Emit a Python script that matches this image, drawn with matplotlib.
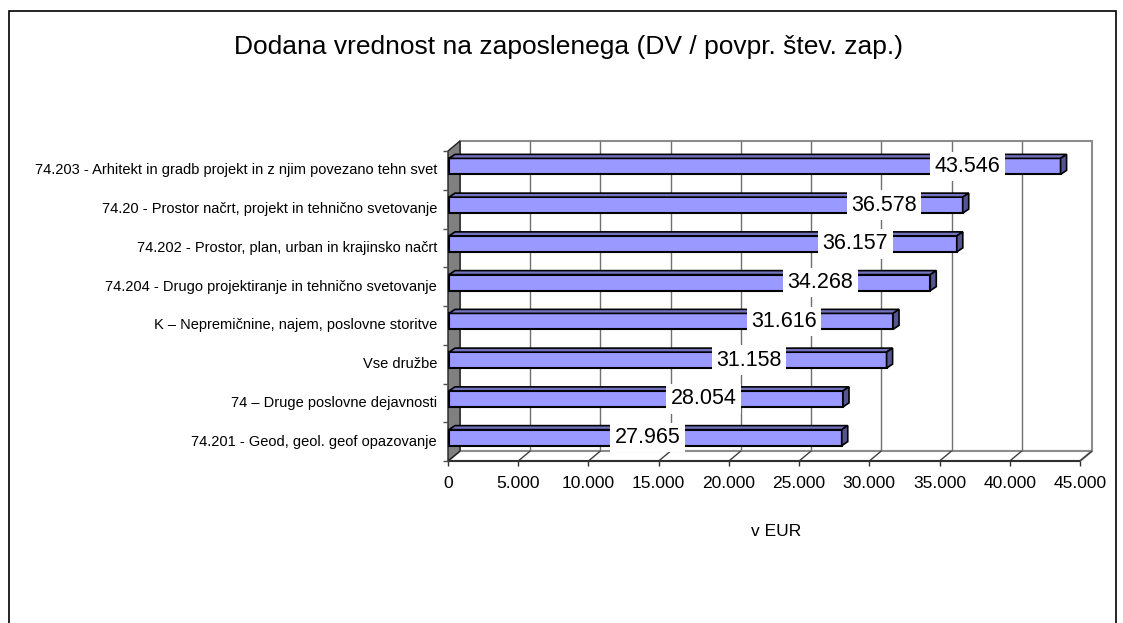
import matplotlib
matplotlib.use('Agg')
import matplotlib.pyplot as plt
from matplotlib import transforms
from matplotlib.patches import Polygon, Rectangle

plt.rcParams['font.family'] = ['Liberation Sans', 'DejaVu Sans']

categories = ['74.203 - Arhitekt in gradb projekt in z njim povezano tehn svet',
              '74.20 - Prostor načrt, projekt in tehnično svetovanje',
              '74.202 - Prostor, plan, urban in krajinsko načrt',
              '74.204 - Drugo projektiranje in tehnično svetovanje',
              'K – Nepremičnine, najem, poslovne storitve',
              'Vse družbe',
              '74 – Druge poslovne dejavnosti',
              '74.201 - Geod, geol. geof opazovanje']
values = [43546, 36578, 36157, 34268, 31616, 31158, 28054, 27965]
xticks = [0, 5000, 10000, 15000, 20000, 25000, 30000, 35000, 40000, 45000]

title = 'Dodana vrednost na zaposlenega (DV / povpr. štev. zap.)'
xlabel = 'v EUR'

# where excel put the value labels (x in data units), odd because of the 3d projection
label_x = [36990, 31045, 29016, 26524, 23925, 21397, 18193, 14205]

W, H = 1123, 623
DX, DY = 12, 10      # depth of the walls in px
BX, BY = 6, 4        # depth of the bars in px

fig = plt.figure(figsize=(W / 100, H / 100), dpi=100)
fig.patches.append(Rectangle((9 / W, -0.05), (1116 - 9) / W, (H - 11) / H + 0.05,
                             transform=fig.transFigure, fill=False,
                             edgecolor='black', linewidth=1.2))

ax = fig.add_axes([448 / W, 1 - 461 / H, 632 / W, 310 / H])
n = len(categories)
ax.set_xlim(0, 45000)
ax.set_ylim(n - 0.5, -0.5)
ax.axis('off')

ident = transforms.IdentityTransform()


def pt(x, y, dx=0, dy=0):
    X, Y = ax.transData.transform((x, y))
    return (X + dx, Y + dy)


def poly(pts, **kw):
    p = Polygon(pts, closed=True, transform=ident, clip_on=False, **kw)
    ax.add_artist(p)


def line(p1, p2, **kw):
    ax.plot([p1[0], p2[0]], [p1[1], p2[1]], transform=ident, clip_on=False,
            solid_capstyle='butt', **kw)


xmax = xticks[-1]
top, bot = -0.5, n - 0.5

# back wall
poly([pt(0, top, DX, DY), pt(xmax, top, DX, DY), pt(xmax, bot, DX, DY), pt(0, bot, DX, DY)],
     facecolor='white', edgecolor='#8c8c8c', linewidth=1.5, zorder=1)
for t in xticks[1:-1]:
    line(pt(t, top, DX, DY), pt(t, bot, DX, DY), color='#707070', linewidth=1.0, zorder=2)

# floor
poly([pt(0, bot), pt(xmax, bot), pt(xmax, bot, DX, DY), pt(0, bot, DX, DY)],
     facecolor='white', edgecolor='#8c8c8c', linewidth=1.5, zorder=1)
for t in xticks[1:]:
    line(pt(t, bot), pt(t, bot, DX, DY), color='#404040', linewidth=1.0, zorder=2)
line(pt(0, bot), pt(xmax, bot), color='#303030', linewidth=1.5, zorder=3)

# left wall
poly([pt(0, top), pt(0, top, DX, DY), pt(0, bot, DX, DY), pt(0, bot)],
     facecolor='#808080', edgecolor='#202020', linewidth=1.0, zorder=2)

# ticks
for t in xticks:
    line(pt(t, bot), pt(t, bot, 0, -5), color='#303030', linewidth=1.0, zorder=3)
    ax.text(t, bot, f'{t:,}'.replace(',', '.'), fontsize=12.5, ha='center', va='center',
            transform=transforms.offset_copy(ax.transData, fig=fig, x=0, y=-22, units='dots'))
for k in range(n + 1):
    line(pt(0, k - 0.5, -5, 0), pt(0, k - 0.5), color='#505050', linewidth=1.0, zorder=3)

# bars
bh = 16 / 38.75
bar_tr = transforms.offset_copy(ax.transData, fig=fig, x=1, y=4, units='dots')
ax.barh(range(n), values, height=bh, color='#9999ff', edgecolor='black',
        linewidth=1.5, transform=bar_tr, zorder=4, clip_on=False)
for k, v in enumerate(values):
    y0, y1 = k - bh / 2, k + bh / 2
    poly([pt(0, y0, 1, 4), pt(v, y0, 1, 4), pt(v, y0, 1 + BX, 4 + BY), pt(0, y0, 1 + BX, 4 + BY)],
         facecolor='#7373c0', edgecolor='black', linewidth=1.2, zorder=4)
    poly([pt(v, y0, 1, 4), pt(v, y1, 1, 4), pt(v, y1, 1 + BX, 4 + BY), pt(v, y0, 1 + BX, 4 + BY)],
         facecolor='#55558f', edgecolor='black', linewidth=1.2, zorder=4)
    ax.text(label_x[k], k, f'{v:,}'.replace(',', '.'), fontsize=15.5, ha='center', va='center',
            transform=transforms.offset_copy(ax.transData, fig=fig, x=0, y=4, units='dots'),
            bbox=dict(boxstyle='square,pad=0.2', facecolor='white', edgecolor='none'),
            zorder=6)

# category labels
lab_tr = transforms.offset_copy(ax.transData, fig=fig, x=-11, y=0, units='dots')
for k, c in enumerate(categories):
    ax.text(0, k, c, fontsize=10.5, ha='right', va='center', transform=lab_tr)

fig.text(568 / W, 1 - 47 / H, title, fontsize=19, ha='center', va='center')
fig.text(776 / W, 1 - 531 / H, xlabel, fontsize=12.5, ha='center', va='center')

fig.savefig('out.png', dpi=100)
